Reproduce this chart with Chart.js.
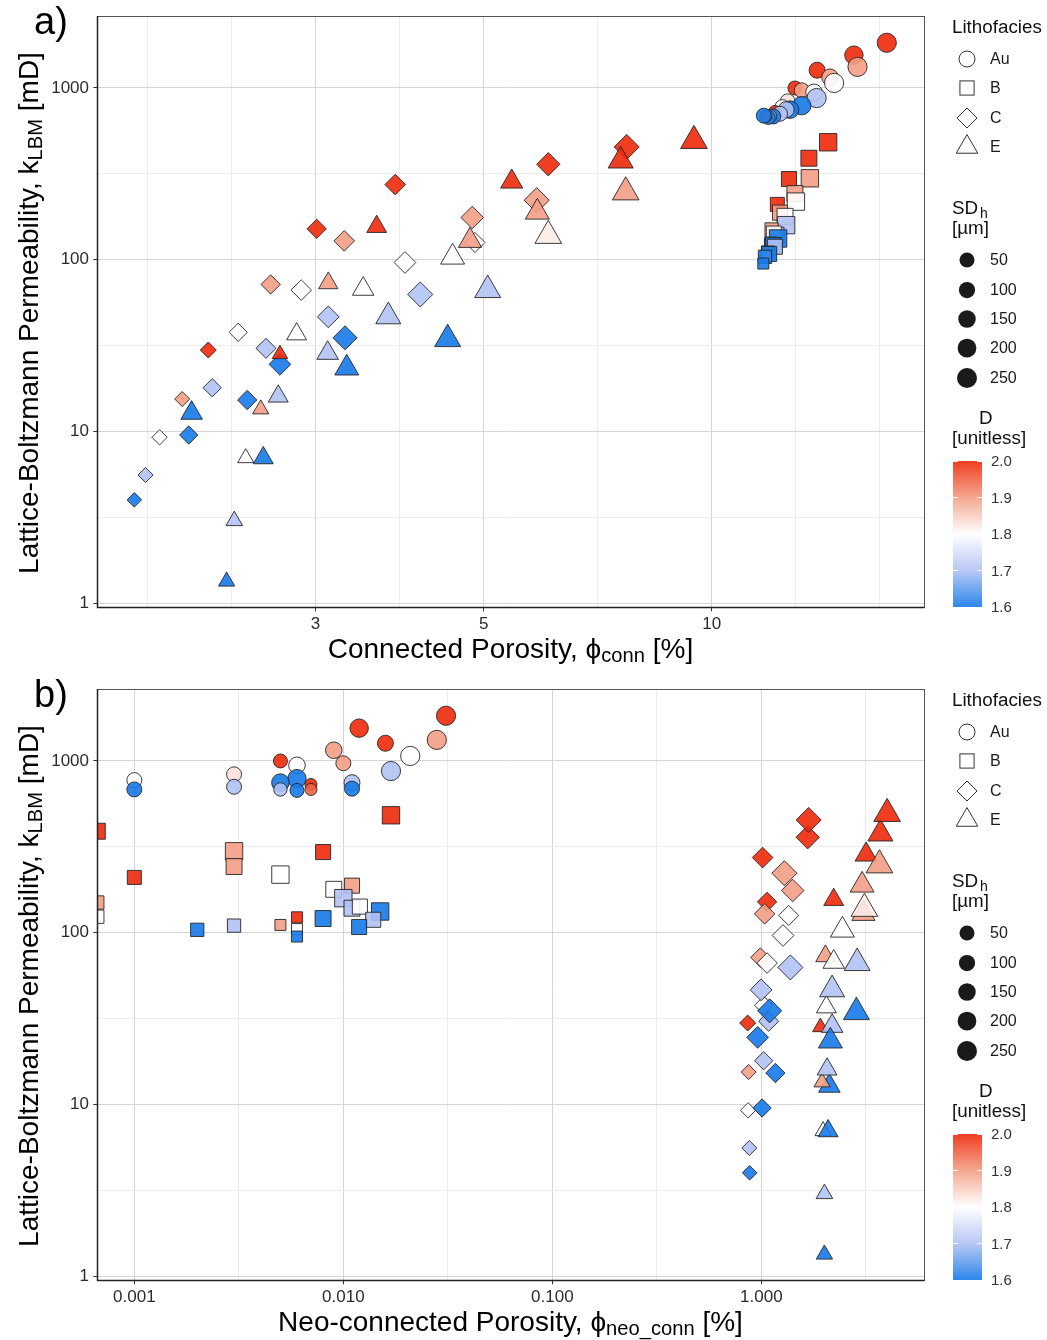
<!DOCTYPE html>
<html>
<head>
<meta charset="utf-8">
<title>Lattice-Boltzmann permeability vs porosity</title>
<script src="https://cdn.jsdelivr.net/npm/chart.js@4.4.1/dist/chart.umd.min.js"></script>
<style>
  html, body { margin: 0; padding: 0; background: #fff; }
  body { width: 1047px; height: 1340px; position: relative; overflow: hidden;
         font-family: "Liberation Sans", Arial, Helvetica, sans-serif; color: #000; }
  .panel { position: absolute; left: 0; width: 1047px; height: 673px; }
  .panel canvas { position: absolute; left: 0; top: 0; }
  .abs { position: absolute; white-space: nowrap; }
  .tag { font-size: 38px; }
  .axis-title { font-size: 28px; text-align: center; }
  .sub { font-size: 0.72em; position: relative; top: 0.22em; }
  .leg-title { font-size: 18.8px; color: #111; }
  .leg-label { font-size: 16px; color: #1a1a1a; }
  .bar-label { font-size: 15px; color: #333; }
</style>
</head>
<body>
<div class="panel" id="panelA" style="top:0px"><canvas id="chartA" width="1047" height="673"></canvas></div>
<div class="panel" id="panelB" style="top:673px"><canvas id="chartB" width="1047" height="673"></canvas></div>
<script>
// ---- Lithofacies Au (circles) ----
const auK       = [1834, 1553, 1327, 1269, 1155, 1070, 1000, 970, 944, 874, 836, 774, 789, 748, 748, 730, 708, 683, 683, 674, 683, 690];
const auD       = [2.0, 2.0, 1.9, 2.0, 1.9, 1.8, 2.0, 1.9, 1.8, 1.7, 1.83, 1.8, 1.6, 1.6, 1.7, 2.0, 1.7, 1.6, 1.7, 1.6, 1.95, 1.6];
const auSD      = [230, 210, 230, 150, 165, 230, 100, 125, 165, 230, 125, 125, 210, 190, 150, 50, 125, 125, 85, 100, 50, 125];
const auPhiConn = [17.03, 15.41, 15.58, 13.78, 14.33, 14.51, 12.88, 13.15, 13.65, 13.76, 12.60, 12.40, 13.15, 12.69, 12.54, 12.12, 12.31, 12.06, 11.94, 11.88, 11.79, 11.72];
const auPhiNeo  = [0.0310, 0.0119, 0.0280, 0.0159, 0.0090, 0.0209, 0.0050, 0.0100, 0.0060, 0.0169, 0.0030, 0.0010, 0.0060, 0.0050, 0.0110, 0.0070, 0.0030, 0.0010, 0.0050, 0.0060, 0.0070, 0.0110];

// ---- Lithofacies B (squares) ----
const bK       = [483, 390, 298, 295, 243, 218, 210, 188, 179, 159, 150, 139, 142, 133, 124, 123, 121, 119, 110, 111, 108, 105, 104, 95];
const bD       = [2.0, 2.0, 1.9, 2.0, 1.9, 1.8, 2.0, 1.9, 1.8, 1.7, 1.9, 1.7, 1.8, 1.6, 1.8, 2.0, 1.6, 1.7, 1.7, 1.9, 1.6, 1.8, 1.6, 1.6];
const bSD      = [240, 200, 240, 175, 200, 240, 145, 175, 200, 240, 125, 200, 175, 240, 125, 60, 200, 175, 125, 60, 175, 60, 125, 60];
const bPhiConn = [14.25, 13.44, 13.48, 12.65, 12.88, 12.92, 12.21, 12.31, 12.50, 12.54, 12.00, 12.16, 12.08, 12.24, 11.98, 11.94, 12.06, 12.12, 11.87, 11.84, 11.91, 11.79, 11.76, 11.70];
const bPhiNeo  = [0.0169, 0.000665, 0.0030, 0.0080, 0.0030, 0.0050, 0.0010, 0.0110, 0.0090, 0.0100, 0.000665, 0.0110, 0.0120, 0.0150, 0.000665, 0.0060, 0.0080, 0.0139, 0.0030, 0.0050, 0.0119, 0.0060, 0.0020, 0.0060];

// ---- Lithofacies C (diamonds) ----
const cK       = [4.0, 5.58, 9.25, 9.54, 15.45, 15.25, 17.98, 29.8, 37.8, 30.5, 24.6, 46.5, 35.1, 62.8, 274, 151.3, 128.8, 176.2, 126.1, 96.4, 71.8, 66.6, 359.8, 222.2, 453.8];
const cD       = [1.6, 1.7, 1.8, 1.6, 1.9, 1.6, 1.7, 2.0, 1.8, 1.7, 1.6, 1.7, 1.6, 1.7, 2.0, 2.0, 1.9, 1.9, 1.8, 1.8, 1.9, 1.8, 2.0, 1.9, 2.0];
const cSD      = [40, 50, 55, 115, 50, 135, 115, 70, 115, 150, 183, 183, 230, 250, 162, 135, 160, 200, 150, 183, 135, 160, 215, 250, 250];
const cPhiConn = [1.729, 1.789, 1.867, 2.040, 2.000, 2.437, 2.191, 2.165, 2.371, 2.580, 2.692, 3.118, 3.281, 4.124, 3.822, 3.010, 3.273, 4.830, 4.870, 3.937, 2.617, 2.872, 6.086, 5.875, 7.724];
const cPhiNeo  = [0.879, 0.876, 0.864, 1.008, 0.869, 1.167, 1.026, 0.860, 1.026, 1.084, 0.960, 0.997, 1.096, 1.377, 1.014, 1.065, 1.037, 1.412, 1.351, 1.270, 0.989, 1.065, 1.666, 1.289, 1.684];

// ---- Lithofacies E (triangles) ----
const eK       = [1.34, 3.02, 7.01, 7.01, 12.81, 13.48, 16.03, 28.2, 36.9, 28.6, 23.4, 46.7, 34.5, 155.8, 73.1, 67.5, 103.5, 129.1, 66.6, 284.7, 189.2, 377, 247.4, 493, 138.1];
const eD       = [1.6, 1.7, 1.8, 1.6, 1.6, 1.9, 1.7, 2.0, 1.8, 1.7, 1.6, 1.7, 1.6, 2.0, 1.9, 1.8, 1.8, 1.9, 1.7, 2.0, 1.9, 2.0, 1.9, 2.0, 1.82];
const eSD      = [52, 60, 50, 120, 150, 50, 120, 40, 120, 150, 195, 215, 232, 120, 110, 150, 195, 180, 232, 160, 195, 215, 245, 245, 245];
const ePhiConn = [2.289, 2.343, 2.426, 2.559, 2.058, 2.539, 2.678, 2.692, 2.832, 3.112, 3.298, 3.742, 4.482, 3.612, 3.118, 3.467, 4.550, 4.797, 5.062, 5.445, 5.886, 7.584, 7.701, 9.476, 6.086];
const ePhiNeo  = [2.003, 2.003, 1.974, 2.086, 2.116, 1.952, 2.063, 1.916, 2.047, 2.180, 2.139, 2.180, 2.850, 2.219, 2.025, 2.219, 2.442, 3.078, 2.872, 3.171, 3.034, 3.712, 3.672, 3.997, 3.112];

// ---- axis breaks and legend keys ----
const faciesNames   = ['Au', 'B', 'C', 'E'];
const connTicks     = [3, 5, 10];
const connLabels    = ['3', '5', '10'];
const neoTicks      = [0.001, 0.01, 0.1, 1];
const neoLabels     = ['0.001', '0.010', '0.100', '1.000'];
const kTicks        = [1, 10, 100, 1000];
const kLabels       = ['1', '10', '100', '1000'];
const sdBreaks      = [50, 100, 150, 200, 250];
const dBreaks       = [2.0, 1.9, 1.8, 1.7, 1.6];

// ---- styling ----
const FONT = "'Liberation Sans', Arial, Helvetica, sans-serif";
const FILL_ALPHA = 0.9;
const dStops   = [1.6, 1.7, 1.8, 1.9, 2.0];
const dColours = [[22, 122, 233], [177, 194, 244], [255, 255, 255], [244, 158, 133], [238, 41, 11]];
const pointStyles = { Au: 'circle', B: 'rect', C: 'rectRot', E: 'triangle' };
// radius factors giving equal-area symbols (square/diamond/triangle vs circle)
const shapeFactor = { circle: 1, rect: 1.2533, rectRot: 1.2533, triangle: 1.5551 };

function colourFor(d, alpha) {
  const t = Math.min(Math.max(d, dStops[0]), dStops[dStops.length - 1]);
  let i = 0;
  while (i < dStops.length - 2 && t > dStops[i + 1]) i++;
  const f = (t - dStops[i]) / (dStops[i + 1] - dStops[i]);
  const a = dColours[i], b = dColours[i + 1];
  const c = a.map((v, j) => Math.round(v + (b[j] - v) * f));
  return `rgba(${c[0]},${c[1]},${c[2]},${alpha})`;
}
function baseRadius(sd) { return 5 + 0.02 * sd; }

const facies = {
  Au: { k: auK, d: auD, sd: auSD, conn: auPhiConn, neo: auPhiNeo },
  B:  { k: bK,  d: bD,  sd: bSD,  conn: bPhiConn,  neo: bPhiNeo },
  C:  { k: cK,  d: cD,  sd: cSD,  conn: cPhiConn,  neo: cPhiNeo },
  E:  { k: eK,  d: eD,  sd: eSD,  conn: ePhiConn,  neo: ePhiNeo }
};
const drawOrder = { Au: 3, B: 2, C: 1, E: 0 };

function buildDatasets(xKey) {
  return faciesNames.map(name => {
    const f = facies[name];
    const style = pointStyles[name];
    return {
      label: name,
      order: drawOrder[name],
      data: f.k.map((k, i) => ({ x: f[xKey][i], y: k, d: f.d[i], sd: f.sd[i] })),
      pointStyle: style,
      pointRadius: ctx => ctx.raw ? baseRadius(ctx.raw.sd) * shapeFactor[style] : 6,
      pointBackgroundColor: ctx => ctx.raw ? colourFor(ctx.raw.d, FILL_ALPHA) : '#fff',
      pointBorderColor: '#262626',
      pointBorderWidth: 0.9,
      showLine: false,
      clip: 0
    };
  });
}

// grid positions: majors plus half-way minors, extended one step past the outer majors
function gridValues(majors, min, max) {
  const lg = majors.map(Math.log10);
  const step = lg[1] - lg[0];
  const b = lg.slice();
  if (Math.log10(min) < b[0]) b.unshift(b[0] - step);
  if (Math.log10(max) > b[b.length - 1]) b.push(b[b.length - 1] + step);
  const out = [];
  for (let i = 0; i < b.length - 1; i++) out.push(b[i], (b[i] + b[i + 1]) / 2);
  out.push(b[b.length - 1]);
  return out.map(v => Math.pow(10, v)).filter(v => v >= min * 0.9999 && v <= max * 1.0001);
}
function majorIndex(v, majors) {
  return majors.findIndex(m => Math.abs(Math.log10(v / m)) < 1e-6);
}

function logAxis(min, max, majors, labels, pad, fitSize, horizontal) {
  const grid = gridValues(majors, min, max);
  return {
    type: 'logarithmic',
    min, max,
    afterBuildTicks: s => { s.ticks = grid.map(v => ({ value: v })); },
    afterFit: s => { if (horizontal) s.height = fitSize; else s.width = fitSize; },
    ticks: {
      autoSkip: false, maxRotation: 0, minRotation: 0,
      padding: pad, color: '#2b2b2b',
      font: { family: FONT, size: 17 },
      callback: v => { const i = majorIndex(v, majors); return i < 0 ? '' : labels[i]; }
    },
    grid: {
      lineWidth: 1,
      color: c => (c.tick && majorIndex(c.tick.value, majors) >= 0) ? '#d5d5d5' : '#ececec',
      tickLength: 4,
      tickWidth: 1,
      tickColor: c => (c.tick && majorIndex(c.tick.value, majors) >= 0) ? '#333' : 'rgba(0,0,0,0)'
    },
    border: { display: false }
  };
}

const framePlugin = {
  id: 'panelFrame',
  afterDatasetsDraw(chart) {
    const { ctx, chartArea: a } = chart;
    ctx.save();
    ctx.strokeStyle = '#555';
    ctx.lineWidth = 1;
    ctx.strokeRect(Math.round(a.left) + 0.5, Math.round(a.top) + 0.5,
                   Math.round(a.right - a.left), Math.round(a.bottom - a.top));
    ctx.strokeStyle = '#222';
    ctx.lineWidth = 1.5;
    ctx.beginPath();
    ctx.moveTo(Math.round(a.left) + 0.5, Math.round(a.top));
    ctx.lineTo(Math.round(a.left) + 0.5, Math.round(a.bottom) + 0.5);
    ctx.lineTo(Math.round(a.right) + 0.5, Math.round(a.bottom) + 0.5);
    ctx.stroke();
    ctx.restore();
  }
};

const K_MIN = 0.947, K_MAX = 2615;

function makeChart(canvasId, xKey, xMin, xMax, xMajors, xLabels) {
  return new Chart(document.getElementById(canvasId), {
    type: 'scatter',
    data: { datasets: buildDatasets(xKey) },
    options: {
      responsive: false,
      animation: false,
      events: [],
      layout: { padding: { top: 16, right: 123, bottom: 0, left: 0 } },
      plugins: { legend: { display: false }, tooltip: { enabled: false } },
      scales: {
        x: logAxis(xMin, xMax, xMajors, xLabels, 3, 65.7, true),
        y: logAxis(K_MIN, K_MAX, kTicks, kLabels, 4.3, 97.3, false)
      }
    },
    plugins: [framePlugin]
  });
}

makeChart('chartA', 'conn', 1.545, 19.07, connTicks, connLabels);
makeChart('chartB', 'neo', 0.000665, 6.0, neoTicks, neoLabels);

// ---- titles and legends (HTML) ----
function place(panel, cls, html, left, centerY, lineH, extra) {
  const el = document.createElement('div');
  el.className = 'abs ' + cls;
  el.style.left = left + 'px';
  el.style.top = (centerY - lineH / 2) + 'px';
  el.style.lineHeight = lineH + 'px';
  if (extra) Object.assign(el.style, extra);
  el.innerHTML = html;
  panel.appendChild(el);
  return el;
}

function shapeSvg(style, r0, fill, stroke) {
  const s = 30, c = 15;
  let body;
  if (style === 'circle') {
    body = `<circle cx="${c}" cy="${c}" r="${r0}"/>`;
  } else if (style === 'rect') {
    const h = 0.8862 * r0;
    body = `<rect x="${c - h}" y="${c - h}" width="${2 * h}" height="${2 * h}"/>`;
  } else if (style === 'rectRot') {
    const h = 1.2533 * r0;
    body = `<polygon points="${c - h},${c} ${c},${c - h} ${c + h},${c} ${c},${c + h}"/>`;
  } else {
    const R = 1.5551 * r0, w = R * Math.sqrt(3) / 2;
    body = `<polygon points="${c},${c - R} ${c + w},${c + R / 2} ${c - w},${c + R / 2}"/>`;
  }
  return `<svg width="${s}" height="${s}" viewBox="0 0 ${s} ${s}"><g fill="${fill}" stroke="${stroke}" stroke-width="1">${body}</g></svg>`;
}

function decoratePanel(panelId, tag, xTitleHtml) {
  const p = document.getElementById(panelId);
  place(p, 'tag', tag, 34, 21, 44);
  place(p, 'axis-title', xTitleHtml, 97, 649, 32, { width: '827px' });
  place(p, 'axis-title',
        'Lattice-Boltzmann Permeability, k<span class="sub">LBM</span> [mD]',
        30 - 295, 311.5, 32, { width: '590px', transform: 'rotate(-90deg)', transformOrigin: '50% 50%' });

  // lithofacies keys
  place(p, 'leg-title', 'Lithofacies', 952, 27, 22);
  const facRows = [59, 88, 118, 147];
  faciesNames.forEach((n, i) => {
    place(p, '', shapeSvg(pointStyles[n], 8, 'none', '#333'), 952, facRows[i], 30, { height: '30px' });
    place(p, 'leg-label', n, 990, facRows[i], 20);
  });

  // SD size keys
  place(p, 'leg-title', 'SD<span style="font-size:0.75em;position:relative;top:0.3em;margin-left:2px">h</span>', 952, 208, 22);
  place(p, 'leg-title', '[µm]', 952, 228, 22);
  const sdRows = [260, 290, 319, 348, 378];
  sdBreaks.forEach((sd, i) => {
    const r = 7.5 + 2.5 * (sd - 50) / 200;
    place(p, '', `<svg width="30" height="30"><circle cx="15" cy="15" r="${r}" fill="#1a1a1a"/></svg>`, 952, sdRows[i], 30, { height: '30px' });
    place(p, 'leg-label', String(sd), 990, sdRows[i], 20);
  });

  // D colour bar
  place(p, 'leg-title', 'D', 979, 418, 22);
  place(p, 'leg-title', '[unitless]', 952, 438, 22);
  const barTop = 461, barH = 146, barLeft = 953, barW = 29;
  const stops = [];
  for (let i = 0; i <= 40; i++) {
    const d = 2.0 - 0.4 * i / 40;
    stops.push(`${colourFor(d, FILL_ALPHA)} ${(i / 40 * 100).toFixed(1)}%`);
  }
  const bar = document.createElement('div');
  bar.className = 'abs';
  Object.assign(bar.style, { left: barLeft + 'px', top: barTop + 'px', width: barW + 'px', height: barH + 'px',
                             background: `linear-gradient(to bottom, ${stops.join(', ')})` });
  p.appendChild(bar);
  dBreaks.forEach(d => {
    const y = barTop + (2.0 - d) / 0.4 * barH;
    [barLeft, barLeft + barW - 5].forEach(x => {
      const t = document.createElement('div');
      t.className = 'abs';
      Object.assign(t.style, { left: x + 'px', top: (y - 0.5) + 'px', width: '5px', height: '1px', background: 'rgba(255,255,255,0.9)' });
      p.appendChild(t);
    });
    place(p, 'bar-label', d.toFixed(1), 991, y, 18);
  });
}

decoratePanel('panelA', 'a)', 'Connected Porosity, ϕ<span class="sub">conn</span> [%]');
decoratePanel('panelB', 'b)', 'Neo-connected Porosity, ϕ<span class="sub">neo_conn</span> [%]');
</script>
</body>
</html>
